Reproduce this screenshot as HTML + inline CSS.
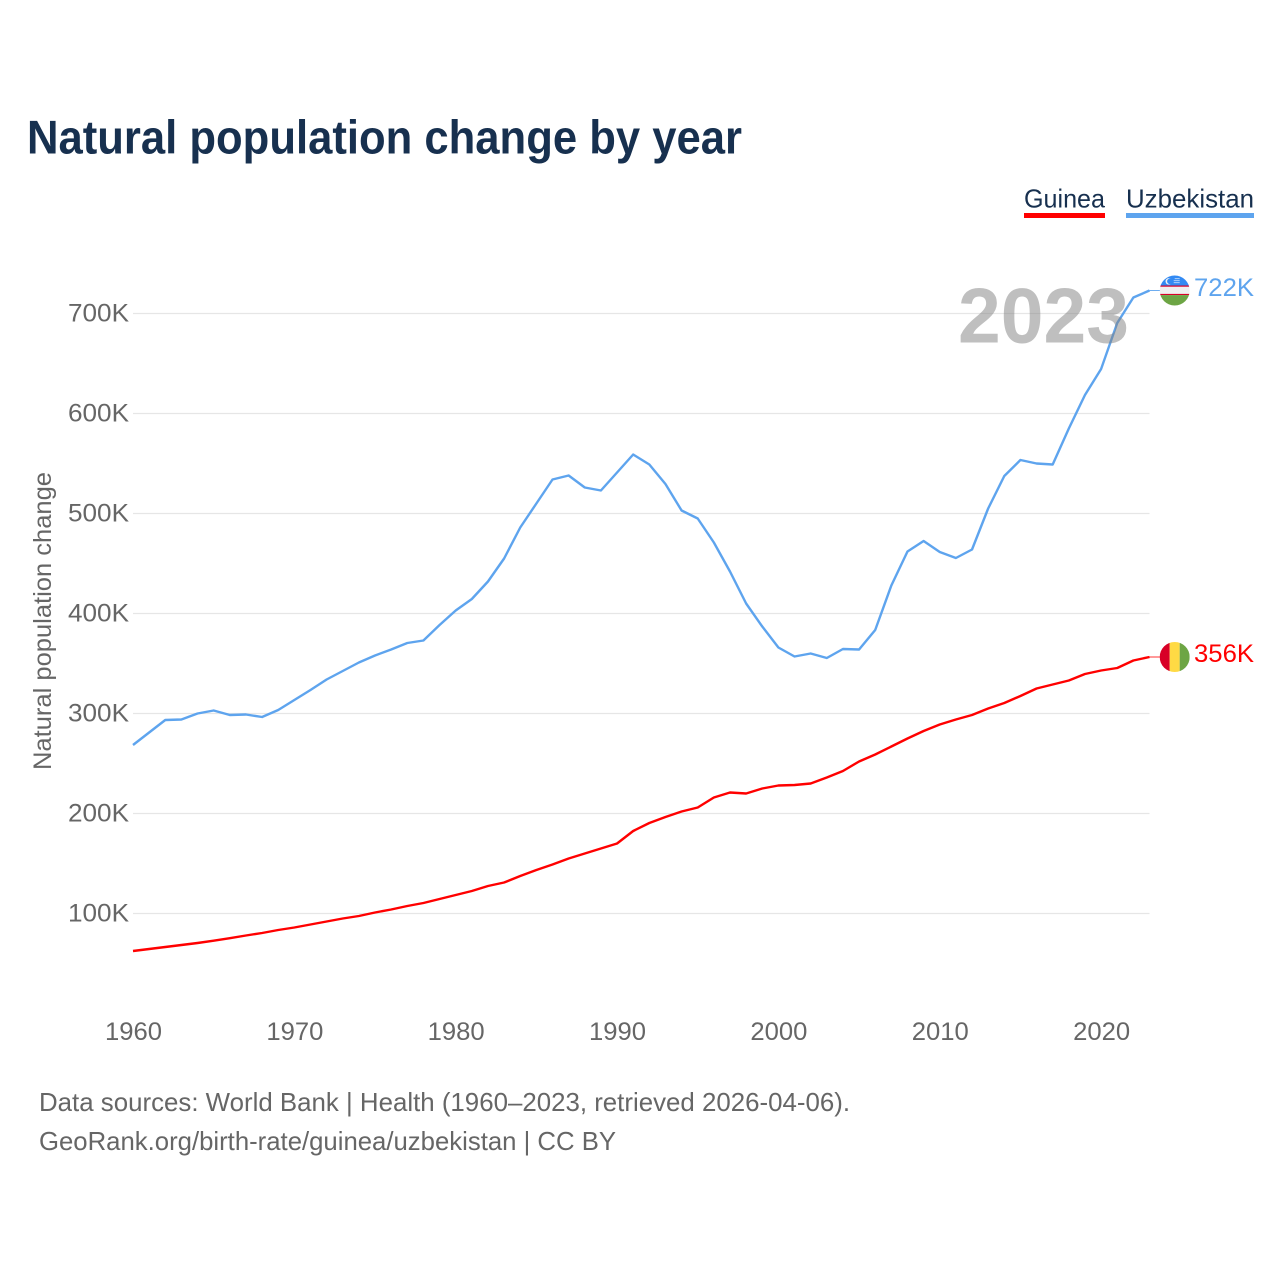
<!DOCTYPE html>
<html lang="en">
<head>
<meta charset="utf-8">
<title>Natural population change by year</title>
<style>
html,body{margin:0;padding:0;background:#fff;}
svg{display:block;font-family:"Liberation Sans",sans-serif;}
</style>
</head>
<body>
<svg id="chart" xmlns="http://www.w3.org/2000/svg" width="1280" height="1280" viewBox="0 0 1280 1280">
  <rect width="1280" height="1280" fill="#fff"/>
  <text x="27" y="153.5" font-size="47" font-weight="700" fill="#17304f" textLength="715" lengthAdjust="spacingAndGlyphs">Natural population change by year</text>

  <text x="1024" y="207.5" font-size="26" fill="#17304f" textLength="81" lengthAdjust="spacingAndGlyphs">Guinea</text>
  <rect x="1024" y="213" width="81" height="5" fill="#ff0000"/>
  <text x="1126" y="207.5" font-size="26" fill="#17304f" textLength="128" lengthAdjust="spacingAndGlyphs">Uzbekistan</text>
  <rect x="1126" y="213" width="128" height="5" fill="#5ea4ee"/>

  <g id="grid"></g>
  <g id="yTicks"></g>
  <g id="xTicks"></g>
  <text transform="translate(51,621) rotate(-90)" text-anchor="middle" font-size="25" fill="#666" textLength="298" lengthAdjust="spacingAndGlyphs">Natural population change</text>

  <g id="series"></g>

  <text x="958" y="342.5" font-size="78" font-weight="700" fill="#808080" fill-opacity="0.5" textLength="171" lengthAdjust="spacingAndGlyphs">2023</text>

  <defs>
    <clipPath id="clip-uz"><circle cx="0" cy="0" r="15"/></clipPath>
    <clipPath id="clip-gn"><circle cx="0" cy="0" r="15"/></clipPath>
  </defs>
  <g id="flagUz">
    <g clip-path="url(#clip-uz)">
      <rect x="-15" y="-15" width="30" height="10" fill="#338af3"/>
      <rect x="-15" y="-5" width="30" height="9" fill="#f0f0f0"/>
      <rect x="-15" y="-5" width="30" height="1.2" fill="#d80027"/>
      <rect x="-15" y="3.4" width="30" height="1.2" fill="#d80027"/>
      <rect x="-15" y="4.6" width="30" height="10.4" fill="#6da544"/>
      <circle cx="-6" cy="-9.2" r="3.2" fill="#f0f0f0"/>
      <circle cx="-4.8" cy="-9.2" r="2.8" fill="#338af3"/>
      <rect x="0" y="-12.2" width="5" height="0.8" fill="#cfe3fb"/>
      <rect x="-1" y="-10.2" width="6" height="0.8" fill="#cfe3fb"/>
      <rect x="-1" y="-8.2" width="6" height="0.8" fill="#cfe3fb"/>
    </g>
  </g>
  <g id="flagGn">
    <g clip-path="url(#clip-gn)">
      <rect x="-15" y="-15" width="10" height="30" fill="#d80027"/>
      <rect x="-5" y="-15" width="10" height="30" fill="#ffda44"/>
      <rect x="5" y="-15" width="10" height="30" fill="#6da544"/>
    </g>
  </g>
  <g id="endLabels"></g>

  <text x="39" y="1111" font-size="26" fill="#666" textLength="811" lengthAdjust="spacingAndGlyphs">Data sources: World Bank | Health (1960–2023, retrieved 2026-04-06).</text>
  <text x="39" y="1150" font-size="26" fill="#666" textLength="577" lengthAdjust="spacingAndGlyphs">GeoRank.org/birth-rate/guinea/uzbekistan | CC BY</text>
</svg>

<script>
const startYear = 1960;
const xTickYears = [1960, 1970, 1980, 1990, 2000, 2010, 2020];
const yTickValues = [100, 200, 300, 400, 500, 600, 700];
const guineaValues = [
  62.5, 64.5, 66.5, 68.5, 70.5, 72.8, 75.3, 78, 80.5, 83.5,
  86, 89, 92, 95, 97.5, 101, 104, 107.5, 110.5, 114.5,
  118.5, 122.5, 127.5, 131, 137.5, 143.5, 149, 155, 160, 165,
  170, 182.5, 190.5, 196.5, 202, 206, 216, 221, 220, 225,
  228, 228.5, 230, 236, 242.5, 252, 259, 267, 275, 282.5,
  289, 294, 298.5, 305, 310.5, 317.5, 325, 329, 333, 339.5,
  343, 345.5, 353, 356.5
];
const uzbekistanValues = [
  268.5, 281, 293.5, 294, 300, 303, 298.5, 299, 296.5, 303.5,
  313.5, 323.5, 334, 342.5, 351, 358, 364, 370.5, 373, 388.5,
  403, 414.5, 432, 455, 486, 510, 534, 538, 526, 523,
  541, 559, 549, 529.5, 503, 495, 471, 442, 410, 387,
  366, 357, 360, 355.5, 364.5, 364, 383.5, 428, 462, 472.5,
  461.5, 455.5, 464, 505, 537.5, 553.5, 550, 549, 585, 618.5,
  644.5, 690.5, 716, 723
];
const guineaEndLabel = '356K';
const uzbekistanEndLabel = '722K';

const SVG_NS = 'http://www.w3.org/2000/svg';
const lastYear = startYear + guineaValues.length - 1;
function xScale(year) { return 133 + (year - startYear) * (1149.5 - 133) / 63; }
function yScale(value) { return 1013.5 - value; }
function make(tag, attrs, parent, text) {
  const el = document.createElementNS(SVG_NS, tag);
  for (const k in attrs) el.setAttribute(k, attrs[k]);
  if (text !== undefined) el.textContent = text;
  parent.appendChild(el);
  return el;
}
function pathFor(values) {
  return values.map(function (v, i) {
    return (i ? 'L' : 'M') + xScale(startYear + i).toFixed(2) + ' ' + yScale(v).toFixed(2);
  }).join(' ');
}

const gridG = document.getElementById('grid');
const yTickG = document.getElementById('yTicks');
yTickValues.forEach(function (v) {
  const line = make('line', { x1: xScale(startYear), x2: xScale(lastYear), y1: yScale(v), y2: yScale(v), stroke: '#e6e6e6', 'stroke-width': 1.3 }, gridG);
  
  
  const label = make('text', { x: 129, y: yScale(v) + 8, 'text-anchor': 'end', 'font-size': 25, fill: '#666', textLength: 61, lengthAdjust: 'spacingAndGlyphs' }, yTickG, v + 'K');
  
  
});

const xTickG = document.getElementById('xTicks');
xTickYears.forEach(function (yr) {
  const label = make('text', { x: xScale(yr) + 0.5, y: 1040, 'text-anchor': 'middle', 'font-size': 25, fill: '#666', textLength: 57, lengthAdjust: 'spacingAndGlyphs' }, xTickG, String(yr));
  
  
});

const seriesG = document.getElementById('series');
const guineaLine = make('path', { d: pathFor(guineaValues), fill: 'none', stroke: '#ff0000', 'stroke-width': 2.4, 'stroke-linejoin': 'round' }, seriesG);


const uzLine = make('path', { d: pathFor(uzbekistanValues), fill: 'none', stroke: '#5ea4ee', 'stroke-width': 2.4, 'stroke-linejoin': 'round' }, seriesG);



const guineaEndY = yScale(guineaValues[guineaValues.length - 1]);
const uzEndY = yScale(uzbekistanValues[uzbekistanValues.length - 1]);
const gnConn = make('line', { x1: xScale(lastYear), x2: 1160, y1: guineaEndY, y2: guineaEndY, stroke: '#ff0000', 'stroke-width': 1, 'stroke-opacity': 0.8 }, seriesG);


const uzConn = make('line', { x1: xScale(lastYear), x2: 1160, y1: uzEndY, y2: uzEndY, stroke: '#5ea4ee', 'stroke-width': 1, 'stroke-opacity': 0.9 }, seriesG);



document.getElementById('flagUz').setAttribute('transform', 'translate(1174.7,' + uzEndY + ')');
document.getElementById('flagGn').setAttribute('transform', 'translate(1174.7,' + guineaEndY + ')');

const endG = document.getElementById('endLabels');
const gnLabel = make('text', { x: 1194, y: guineaEndY + 5, 'font-size': 25, fill: '#ff0000', textLength: 60, lengthAdjust: 'spacingAndGlyphs' }, endG, guineaEndLabel);


const uzLabel = make('text', { x: 1194, y: uzEndY + 5.5, 'font-size': 25, fill: '#5ea4ee', textLength: 60, lengthAdjust: 'spacingAndGlyphs' }, endG, uzbekistanEndLabel);


</script>
</body>
</html>
